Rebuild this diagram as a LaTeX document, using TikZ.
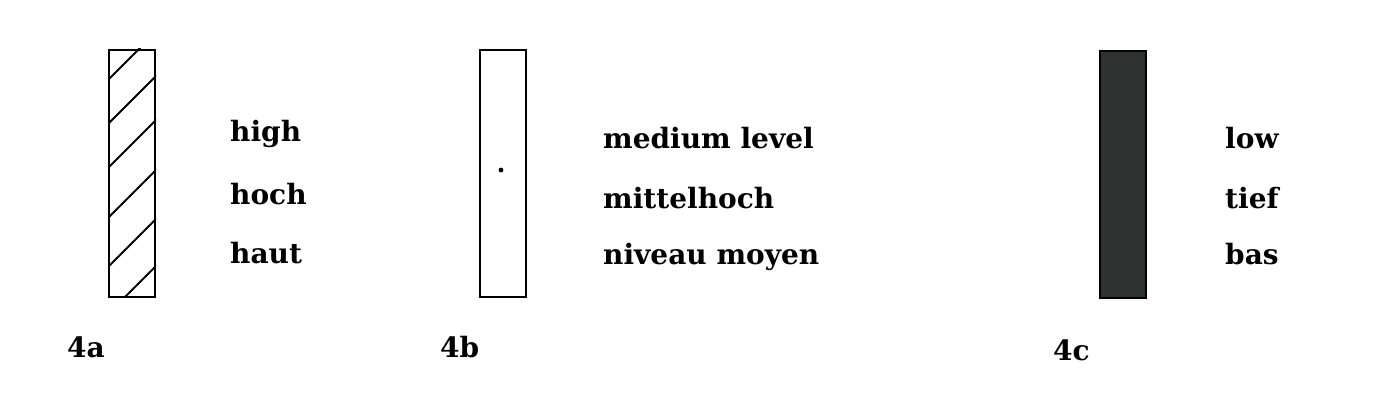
\documentclass[tikz,border=0pt]{standalone}
\usepackage{fontspec}
\setmainfont{DejaVu Serif}
\definecolor{darkbar}{RGB}{46,50,49}
\begin{document}
\begin{tikzpicture}[x=1pt,y=-1pt,
  bar/.style={draw, line width=2pt, minimum width=46pt, minimum height=247pt, inner sep=0pt, anchor=north west},
  lbl/.style={anchor=base west, inner sep=0pt, font=\bfseries\fontsize{28}{32}\selectfont},
  hatch/.style={line width=1.8pt}]
\useasboundingbox[fill=white] (0,0) rectangle (1379,403);
% 4a
\node[bar] (a) at (108,49) {};
\begin{scope}
  \clip (a.north west) rectangle (a.south east);
  \foreach \c in {188,232,276,326,375,422}
    \draw[hatch] (\c-300,300) -- (\c,0);
\end{scope}
\node[lbl] (a1) at (230,142) {high};
\node[lbl] (a2) at (230,205) {hoch};
\node[lbl] (a3) at (230,264) {haut};
\node[lbl] (la) at (67,358) {4a};
% 4b
\node[bar] (b) at (479,49) {};
\fill (501,170) circle (2.4pt);
\node[lbl] (b1) at (603,149) {medium level};
\node[lbl] (b2) at (603,209) {mittelhoch};
\node[lbl] (b3) at (603,265) {niveau moyen};
\node[lbl] (lb) at (440,358) {4b};
% 4c
\node[bar, fill=darkbar] (c) at (1099,50) {};
\node[lbl] (c1) at (1225,149) {low};
\node[lbl] (c2) at (1225,209) {tief};
\node[lbl] (c3) at (1225,265) {bas};
\node[lbl] (lc) at (1053,360) {4c};
\end{tikzpicture}
\end{document}
